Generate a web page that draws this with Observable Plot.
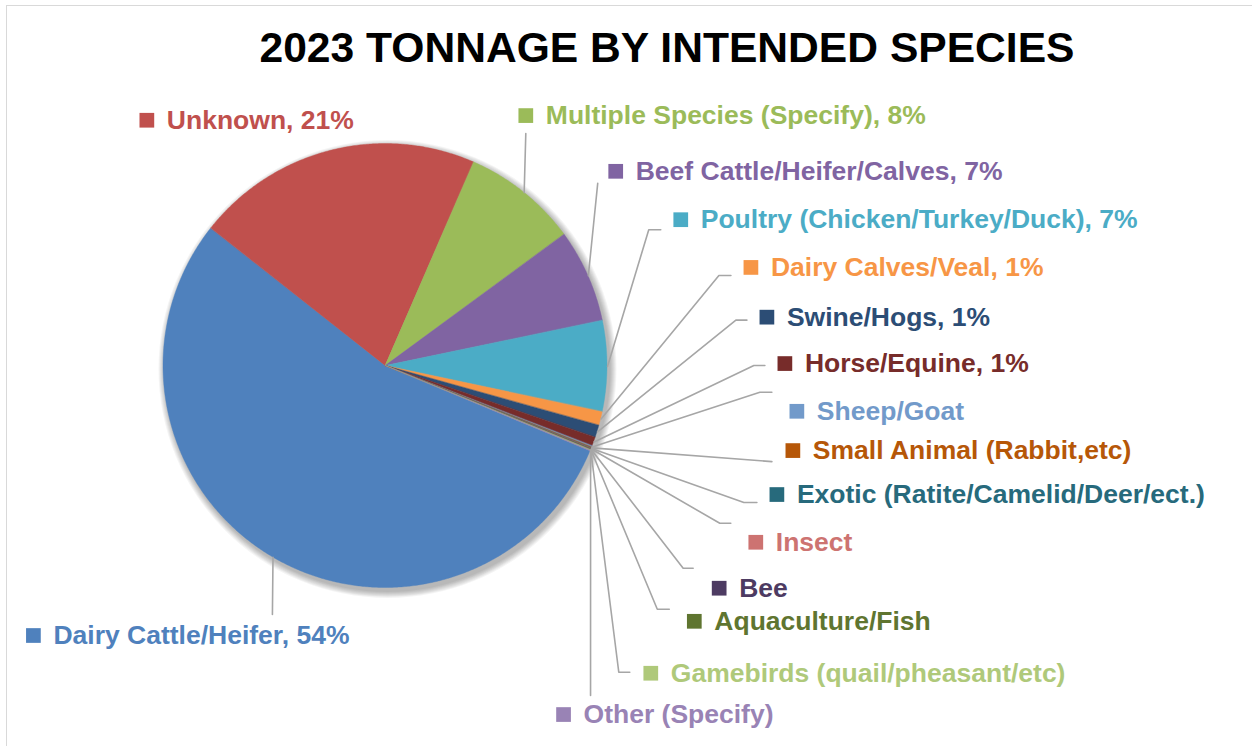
<!DOCTYPE html>
<html>
<head>
<meta charset="utf-8">
<script src="https://cdn.jsdelivr.net/npm/d3@7"></script>
<script src="https://cdn.jsdelivr.net/npm/@observablehq/plot@0.6"></script>
<style>
  html, body { margin: 0; padding: 0; background: #fff; overflow: hidden; width: 1252px; height: 746px; }
  #frame { position: absolute; left: 6px; top: 5px; width: 1300px; height: 800px;
           border-left: 1.5px solid #d9d9d9; border-top: 1.5px solid #d9d9d9; }
  #title { position: absolute; left: 667px; top: 26px; transform: translateX(-50%);
           font: bold 42.6px/43px "Liberation Sans", Arial, sans-serif; color: #000; white-space: nowrap; }
  #chart { position: absolute; left: 0; top: 80px; }
</style>
</head>
<body>
<div id="frame"></div>
<div id="title">2023 TONNAGE BY INTENDED SPECIES</div>
<div id="chart"></div>
<script>
// ---------------- data ----------------
const species = [
  "Dairy Cattle/Heifer", "Unknown", "Multiple Species (Specify)", "Beef Cattle/Heifer/Calves",
  "Poultry (Chicken/Turkey/Duck)", "Dairy Calves/Veal", "Swine/Hogs", "Horse/Equine",
  "Sheep/Goat", "Small Animal (Rabbit,etc)", "Exotic (Ratite/Camelid/Deer/ect.)", "Insect",
  "Bee", "Aquaculture/Fish", "Gamebirds (quail/pheasant/etc)", "Other (Specify)"
];
const share = [54.36, 20.9, 8.4, 6.8, 6.6, 1.0, 0.9, 0.65, 0.1, 0.05, 0.05, 0.03, 0.03, 0.05, 0.03, 0.05];
const showPct = [true, true, true, true, true, true, true, true, false, false, false, false, false, false, false, false];
const colors = [
  "#4F81BD", "#C0504D", "#9BBB59", "#8064A2", "#4BACC6", "#F79646", "#2C4D75", "#772C2A",
  "#729ACA", "#B65708", "#276A7C", "#CD7371", "#4D3B62", "#5F7530", "#AFC97A", "#9983B5"
];

// ---------------- layout ----------------
const R = 222;              // pixels per pie radius
const startAngle = 112.6;   // first slice angle (deg, clockwise from 12 o'clock)
// label marker position, offset from pie centre in pie radii
const labelAt = [
  [-1.586, 1.214], [-1.075, -1.107], [0.632, -1.128], [1.037, -0.877],
  [1.330, -0.659], [1.646, -0.444], [1.718, -0.220], [1.799, -0.011],
  [1.853, 0.204], [1.835, 0.381], [1.763, 0.579], [1.668, 0.794],
  [1.503, 1.001], [1.391, 1.150], [1.195, 1.384], [0.802, 1.570]
];
// leader attachment relative to label marker (px) and elbow length (px)
const leaderAttach = [
  [239, -21, 0], null, [0, 18, 0], [-18, 12, 0],
  [-20, 10, 12], [-20, 8, 12], [-20, 3, 11], [-20, 2, 11],
  [-25, -19, 12], [-21, 11, 0], [-20, 8, 13], [-25, -19, 11],
  [-26, -20, 10], [-25, -12, 12], [-21, -1, 11], [27, -19, 0]
];

// ---------------- derived geometry ----------------
const total = d3.sum(share);
const rad = a => a * Math.PI / 180;
const onCircle = (a, r = 1) => [Math.sin(rad(a)) * r, -Math.cos(rad(a)) * r];

let acc = 0;
const slices = species.map((name, i) => {
  const a0 = startAngle + acc / total * 360;
  acc += share[i];
  const a1 = startAngle + acc / total * 360;
  return {name, a0, a1, mid: (a0 + a1) / 2};
});

// each wedge: arc points as one edge of an area, pie centre as the other
const slicePts = slices.flatMap(s => {
  const n = Math.max(2, Math.ceil((s.a1 - s.a0) / 0.4));
  return d3.range(n + 1).map(k => {
    const [x, y] = onCircle(s.a0 + (s.a1 - s.a0) * k / n);
    return {name: s.name, x, y, x0: 0, y0: 0};
  });
});

const labels = species.map((name, i) => ({
  name,
  x: labelAt[i][0],
  y: labelAt[i][1],
  text: showPct[i] ? `${name}, ${Math.round(share[i] / total * 100)}%` : name
}));

const leaderPts = [];
slices.forEach((s, i) => {
  const att = leaderAttach[i];
  if (!att) return;
  const [sx, sy] = onCircle(s.mid);
  const ex = labelAt[i][0] + att[0] / R, ey = labelAt[i][1] + att[1] / R;
  leaderPts.push({name: s.name, x: sx, y: sy});
  if (att[2] > 0) leaderPts.push({name: s.name, x: ex - att[2] / R, y: ey});
  leaderPts.push({name: s.name, x: ex, y: ey});
});

// soft shadow rings behind the pie
const shadowRings = [7, 6, 5, 4, 3, 2, 1].map(k => ({x: 0, y: 0, r: R + k}));

const W = 1252, H = 666, cx = 385, cy = 285.5;
const font = '"Liberation Sans", Arial, sans-serif';

const chart = Plot.plot({
  width: W, height: H, margin: 0,
  x: {domain: [-cx / R, (W - cx) / R], axis: null},
  y: {domain: [(H - cy) / R, -cy / R], axis: null},
  r: {type: "identity"},
  color: {domain: species, range: colors},
  style: {background: "transparent", fontFamily: font},
  marks: [
    Plot.dot(shadowRings, {x: "x", y: "y", r: "r", dx: 2, dy: 3, fill: "#000", fillOpacity: 0.045, stroke: "none"}),
    Plot.area(slicePts, {x1: "x", y1: "y", x2: "x0", y2: "y0", z: "name", fill: "name", stroke: "name", strokeWidth: 0.4}),
    Plot.line(leaderPts, {x: "x", y: "y", z: "name", stroke: "#a6a6a6", strokeWidth: 1.6}),
    Plot.dot(labels, {x: "x", y: "y", symbol: "square", r: 8.3, fill: "name", stroke: "none"}),
    Plot.text(labels, {x: "x", y: "y", text: "text", fill: "name", dx: 20, textAnchor: "start",
                       fontSize: 26.5, fontWeight: "bold", fontFamily: font})
  ]
});

document.getElementById("chart").appendChild(chart);
</script>
</body>
</html>
